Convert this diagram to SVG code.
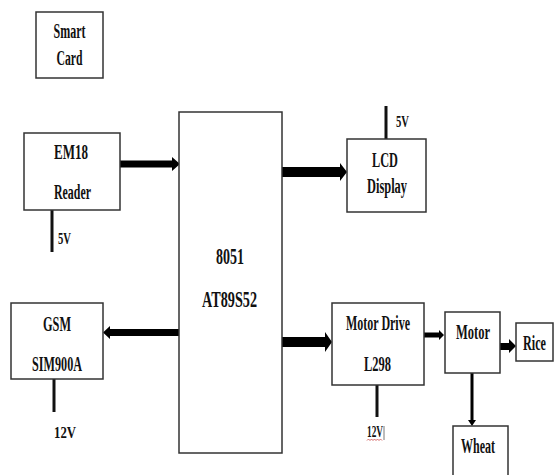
<svg xmlns="http://www.w3.org/2000/svg" width="555" height="475" viewBox="0 0 555 475">
<style>
.box{fill:#fff;stroke:#333;stroke-width:1.5}
.t{font-family:"Liberation Serif","Times New Roman",serif;font-weight:bold;font-size:20px;fill:#111;text-anchor:middle}
.big{font-size:23px}
.v{font-size:17px}
.pw{stroke:#111;stroke-width:3}
.ar{fill:#000}
</style>
<rect width="555" height="475" fill="#fff"/>
<g id="connectors">
<polygon class="ar" points="120,160.5 172,160.5 172,157 180,164 172,171 172,167.5 120,167.5"/>
<polygon class="ar" points="180,329 110,329 110,326 103,332.5 110,339 110,336 180,336"/>
<polygon class="ar" points="282,167 340,167 340,163 347,172 340,181 340,177 282,177"/>
<polygon class="ar" points="282,337 325,337 325,332 332,342 325,352 325,347 282,347"/>
<polygon class="ar" points="424,332.5 439,332.5 439,330 444,335 439,340 439,337.5 424,337.5"/>
<polygon class="ar" points="500,343 509,343 509,339 516,346 509,353 509,350 500,350"/>
<polygon class="ar" points="470.5,373 473.5,373 473.5,420 476,420 472,426 468,420 470.5,420"/>
<line class="pw" x1="52" y1="208" x2="52" y2="252"/>
<line class="pw" x1="54" y1="379" x2="54" y2="412" stroke-width="2.5"/>
<line class="pw" x1="386" y1="106" x2="386" y2="139"/>
<line class="pw" x1="377" y1="385" x2="377" y2="417" stroke-width="2"/>
</g>
<g id="smartcard"><rect class="box" x="36" y="12" width="67" height="66"/><text class="t" x="69.5" y="38" textLength="32" lengthAdjust="spacingAndGlyphs">Smart</text><text class="t" x="69.5" y="65" textLength="26" lengthAdjust="spacingAndGlyphs">Card</text></g>
<g id="em18"><rect class="box" x="24" y="133" width="96" height="77"/><text class="t" x="71" y="159" textLength="34" lengthAdjust="spacingAndGlyphs">EM18</text><text class="t" x="72.5" y="199" textLength="37" lengthAdjust="spacingAndGlyphs">Reader</text><text class="t v" x="64.5" y="244" textLength="13" lengthAdjust="spacingAndGlyphs">5V</text></g>
<g id="gsm"><rect class="box" x="11" y="303" width="92" height="76"/><text class="t" x="57" y="331" textLength="28" lengthAdjust="spacingAndGlyphs">GSM</text><text class="t" x="57" y="371" textLength="50" lengthAdjust="spacingAndGlyphs">SIM900A</text><text class="t v" x="65" y="438" textLength="22" lengthAdjust="spacingAndGlyphs">12V</text></g>
<g id="mcu"><rect class="box" x="179" y="112" width="103" height="341"/><text class="t big" x="230" y="264" textLength="28" lengthAdjust="spacingAndGlyphs">8051</text><text class="t big" x="229.5" y="307" textLength="55" lengthAdjust="spacingAndGlyphs">AT89S52</text></g>
<g id="lcd"><rect class="box" x="347" y="139" width="79" height="73"/><text class="t" x="385" y="167" textLength="26" lengthAdjust="spacingAndGlyphs">LCD</text><text class="t" x="387" y="193" textLength="40" lengthAdjust="spacingAndGlyphs">Display</text><text class="t v" x="402.5" y="127" textLength="13" lengthAdjust="spacingAndGlyphs">5V</text></g>
<g id="motordrive"><rect class="box" x="332" y="303" width="92" height="82"/><text class="t" x="378" y="330" textLength="64" lengthAdjust="spacingAndGlyphs">Motor Drive</text><text class="t" x="377.5" y="371" textLength="27" lengthAdjust="spacingAndGlyphs">L298</text><text class="t v" x="375" y="437" textLength="16" lengthAdjust="spacingAndGlyphs">12V</text><path d="M367,440.5 l1.5,-1.5 1.5,1.5 1.5,-1.5 1.5,1.5 1.5,-1.5 1.5,1.5 1.5,-1.5 1.5,1.5 1.5,-1.5 1.5,1.5" fill="none" stroke="#c44" stroke-width="0.8"/><line x1="384" y1="426" x2="384" y2="440" stroke="#555" stroke-width="0.8"/></g>
<g id="motor"><rect class="box" x="445" y="312" width="55" height="61"/><text class="t" x="473" y="339" textLength="34" lengthAdjust="spacingAndGlyphs">Motor</text></g>
<g id="rice"><rect class="box" x="516" y="323" width="37" height="38"/><text class="t" x="534.5" y="350" font-size="17" textLength="23" lengthAdjust="spacingAndGlyphs">Rice</text></g>
<g id="wheat"><rect class="box" x="453" y="426" width="55" height="60"/><text class="t" x="478" y="453" textLength="34" lengthAdjust="spacingAndGlyphs">Wheat</text></g>
</svg>
